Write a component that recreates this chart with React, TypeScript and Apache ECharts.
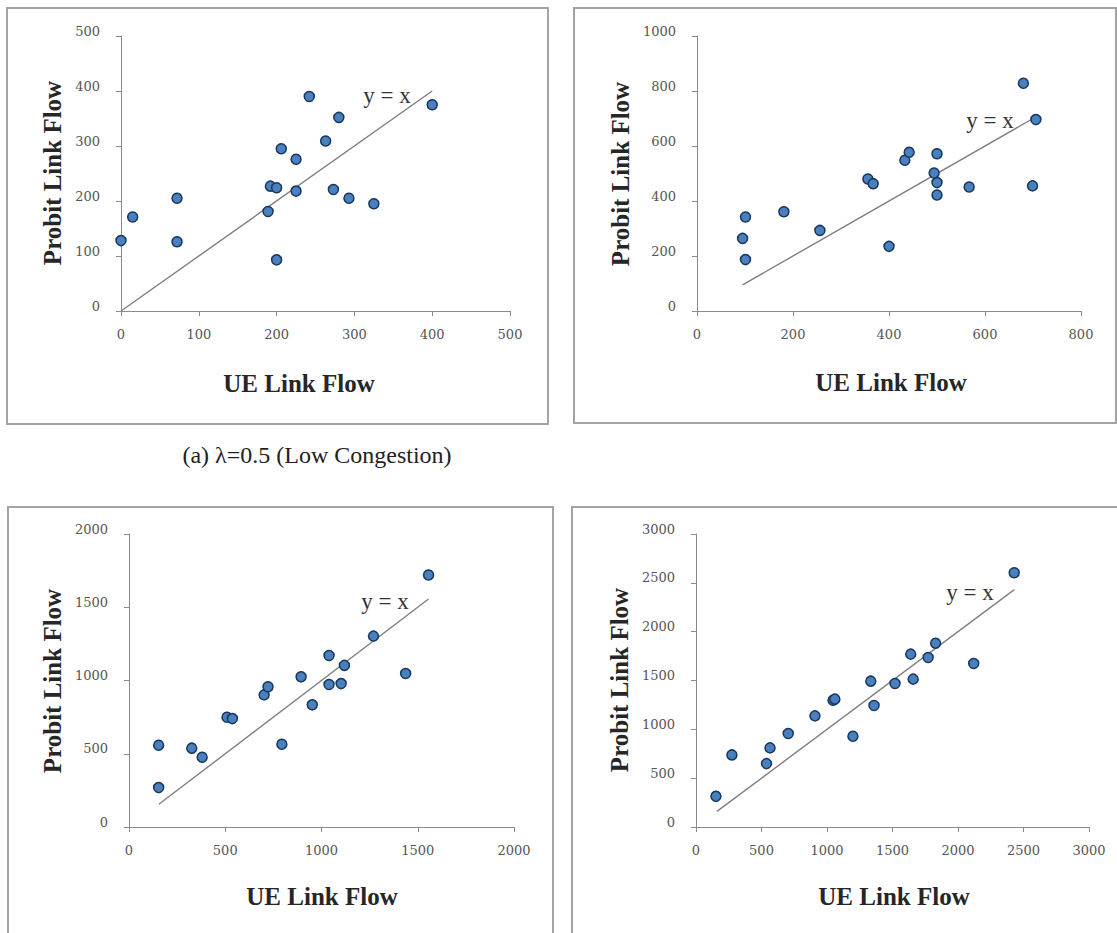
import React, { useEffect, useRef } from "react";
import * as echarts from "echarts";

// Panel (a) low congestion, left: UE vs Probit link flows
const p1UE = [0, 15, 72, 72, 189, 192, 200, 200, 206, 225, 225, 242, 263, 273, 280, 293, 325, 400];
const p1Probit = [128, 171, 205, 126, 181, 227, 224, 93, 295, 276, 218, 390, 309, 221, 352, 205, 195, 375];
// Panel top-right
const p2UE = [101, 95, 101, 181, 256, 356, 367, 400, 433, 442, 494, 500, 500, 500, 567, 680, 706, 699];
const p2Probit = [342, 264, 187, 361, 293, 480, 463, 235, 548, 577, 502, 572, 467, 422, 451, 828, 696, 455];
// Panel bottom-left
const p3UE = [154, 154, 326, 380, 509, 537, 702, 722, 794, 894, 952, 1039, 1039, 1102, 1119, 1270, 1437, 1556];
const p3Probit = [558, 269, 538, 476, 749, 740, 902, 957, 565, 1025, 834, 1171, 973, 979, 1103, 1303, 1048, 1720];
// Panel bottom-right
const p4UE = [152, 274, 538, 565, 704, 908, 1046, 1060, 1198, 1334, 1359, 1519, 1639, 1658, 1772, 1829, 2120, 2429];
const p4Probit = [314, 738, 649, 810, 957, 1138, 1298, 1309, 929, 1493, 1244, 1469, 1770, 1514, 1736, 1882, 1674, 2603];

// y = x reference line extents
const lineRange1 = [0, 400];
const lineRange2 = [95, 700];
const lineRange3 = [155, 1556];
const lineRange4 = [160, 2430];

// axis extents [max, interval]
const axisX = [[500, 100], [800, 200], [2000, 500], [3000, 500]];
const axisY = [[500, 100], [1000, 200], [2000, 500], [3000, 500]];

const xTitle = "UE Link Flow";
const yTitle = "Probit Link Flow";
const refLabel = "y = x";
const caption = "(a) λ=0.5 (Low Congestion)";

const panels = [
  { ue: p1UE, pr: p1Probit, line: lineRange1 },
  { ue: p2UE, pr: p2Probit, line: lineRange2 },
  { ue: p3UE, pr: p3Probit, line: lineRange3 },
  { ue: p4UE, pr: p4Probit, line: lineRange4 },
];

const grids = [
  { left: 121, top: 36, width: 389, height: 275 },
  { left: 697, top: 36, width: 384, height: 275 },
  { left: 129, top: 534, width: 385, height: 293 },
  { left: 696, top: 534, width: 393, height: 293 },
];

const frames = [
  { x: 7, y: 8, w: 541, h: 416 },
  { x: 574, y: 8, w: 542, h: 415 },
  { x: 8, y: 507, w: 545, h: 440 },
  { x: 572, y: 507, w: 560, h: 440 },
];

const xTitlePos = [[299, 383], [891, 382], [322, 896], [894, 896]];
const yTitlePos = [[52, 173], [620, 174], [52, 681], [619, 680]];
const refPos = [[387, 95], [990, 120], [385, 601], [970, 592]];

const axisColor = "#8a8a8a";
const labelStyle = { fontFamily: "DejaVu Serif", fontSize: 13, color: "#555" };
const plain = (v: number) => String(v);

export default function App() {
  const ref = useRef<HTMLDivElement>(null);
  useEffect(() => {
    if (!ref.current) return;
    const chart = echarts.init(ref.current, null, { renderer: "svg" });
    const series: any[] = [];
    panels.forEach((p, i) => {
      series.push({
        type: "line",
        xAxisIndex: i,
        yAxisIndex: i,
        data: p.line.map((v) => [v, v]),
        symbol: "none",
        lineStyle: { color: "#7f7f7f", width: 1.4 },
        silent: true,
        z: 2,
      });
      series.push({
        type: "scatter",
        xAxisIndex: i,
        yAxisIndex: i,
        data: p.ue.map((v, k) => [v, p.pr[k]]),
        symbol: "circle",
        symbolSize: 10,
        itemStyle: { color: "#4a80bd", borderColor: "#17375e", borderWidth: 1.5, opacity: 1 },
        z: 3,
      });
    });
    const graphic: any[] = [];
    frames.forEach((f) => {
      graphic.push({
        type: "rect",
        shape: { x: f.x, y: f.y, width: f.w, height: f.h },
        style: { fill: "none", stroke: "#a3a3a3", lineWidth: 2 },
        silent: true,
      });
    });
    xTitlePos.forEach(([x, y]) => {
      graphic.push({
        type: "text",
        x,
        y,
        style: {
          text: xTitle,
          font: "bold 25px 'Liberation Serif'",
          fill: "#262626",
          align: "center",
          verticalAlign: "middle",
        },
      });
    });
    yTitlePos.forEach(([x, y]) => {
      graphic.push({
        type: "text",
        x,
        y,
        rotation: Math.PI / 2,
        style: {
          text: yTitle,
          font: "bold 25px 'Liberation Serif'",
          fill: "#262626",
          align: "center",
          verticalAlign: "middle",
        },
      });
    });
    refPos.forEach(([x, y]) => {
      graphic.push({
        type: "text",
        x,
        y,
        style: {
          text: refLabel,
          font: "23px 'Liberation Serif'",
          fill: "#333",
          align: "center",
          verticalAlign: "middle",
        },
      });
    });
    graphic.push({
      type: "text",
      x: 317,
      y: 455,
      style: {
        text: caption,
        font: "24px 'Liberation Serif'",
        fill: "#222",
        align: "center",
        verticalAlign: "middle",
      },
    });

    chart.setOption({
      animation: false,
      backgroundColor: "#ffffff",
      grid: grids.map((g) => ({ ...g, containLabel: false })),
      xAxis: axisX.map(([max, interval], i) => ({
        type: "value",
        gridIndex: i,
        min: 0,
        max,
        interval,
        splitLine: { show: false },
        axisLine: { show: true, onZero: false, lineStyle: { color: axisColor, width: 1 } },
        axisTick: { show: true, inside: false, length: 5, lineStyle: { color: axisColor } },
        axisLabel: { ...labelStyle, margin: 17, formatter: plain },
      })),
      yAxis: axisY.map(([max, interval], i) => ({
        type: "value",
        gridIndex: i,
        min: 0,
        max,
        interval,
        splitLine: { show: false },
        axisLine: { show: true, onZero: false, lineStyle: { color: axisColor, width: 1 } },
        axisTick: { show: true, inside: false, length: 5, lineStyle: { color: axisColor } },
        axisLabel: {
          ...labelStyle,
          margin: 21,
          formatter: plain,
          verticalAlign: "bottom",
          lineHeight: 10,
        },
      })),
      series,
      graphic,
    });
    return () => chart.dispose();
  }, []);
  return (
    <div
      ref={ref}
      style={{ position: "absolute", left: 0, top: 0, width: 1117, height: 933 }}
    />
  );
}
